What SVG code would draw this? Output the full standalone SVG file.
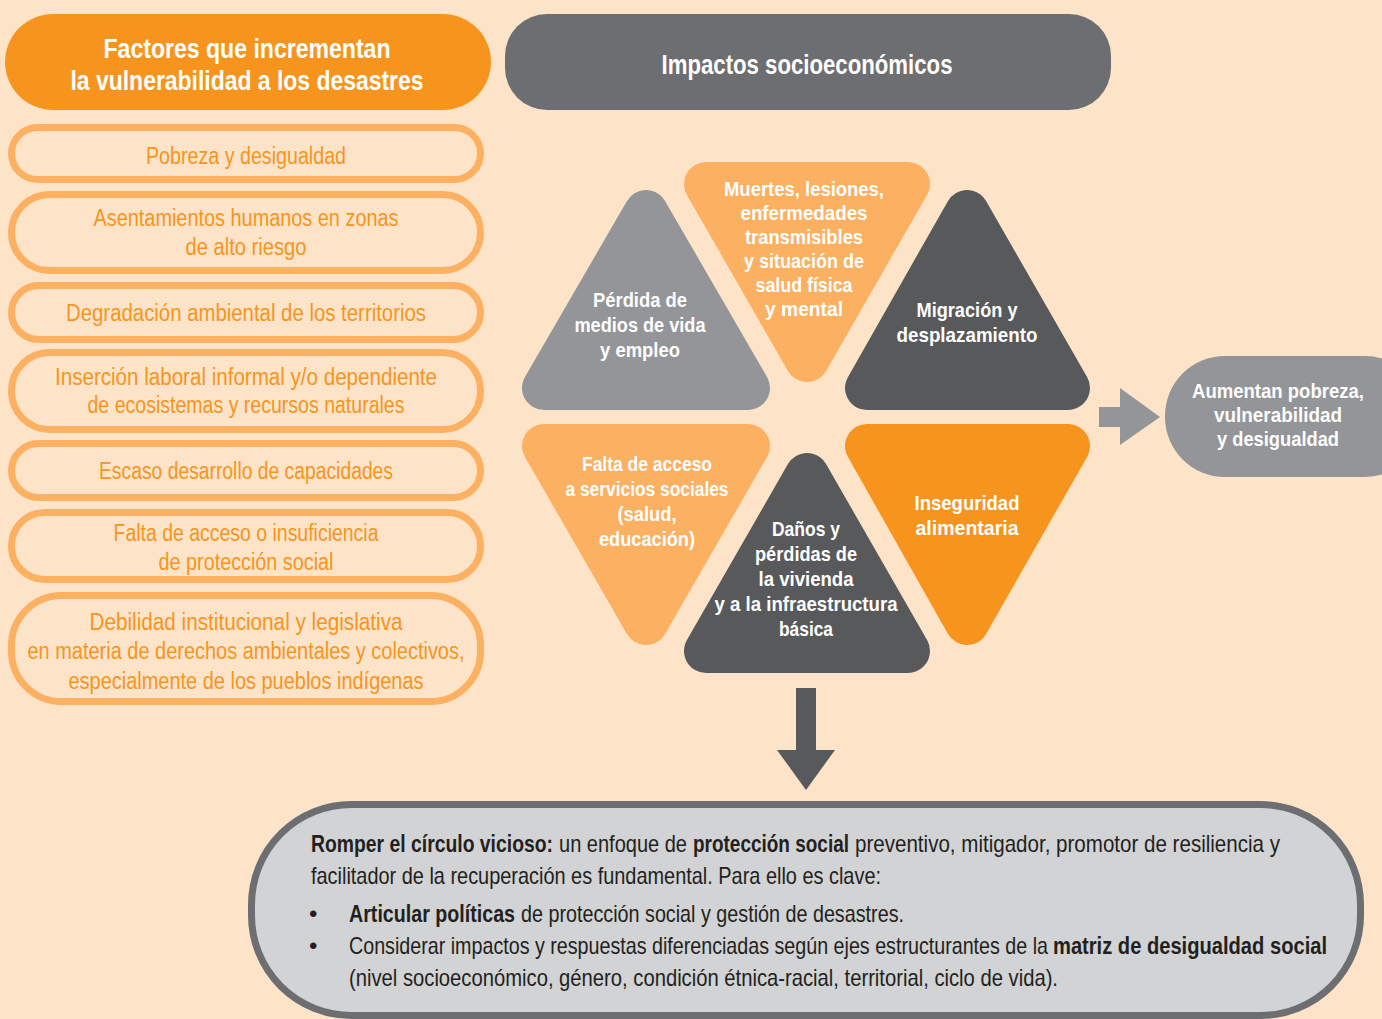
<svg xmlns="http://www.w3.org/2000/svg" width="1382" height="1019" viewBox="0 0 1382 1019">
<style>
text{font-family:"Liberation Sans Narrow","Liberation Sans",Arial,sans-serif;text-anchor:middle}
.hd{fill:#fff;font-weight:bold;font-size:28px}
.it{fill:#F7941D;font-size:23px}
.box{fill:none;stroke:#FBB062;stroke-width:7}
.tw{fill:#fff;font-weight:bold;font-size:21px}
.bt{fill:#231F20;font-size:24px;text-anchor:start}
.b{font-weight:bold}
</style>
<rect width="1382" height="1019" fill="#FDE4C9"/>
<g id="hdr-factores">
<rect x="5" y="14" width="486" height="96" rx="48" fill="#F7941D"/>
<text class="hd" x="247" y="58" textLength="287" lengthAdjust="spacingAndGlyphs">Factores que incrementan</text>
<text class="hd" x="247" y="90" textLength="353" lengthAdjust="spacingAndGlyphs">la vulnerabilidad a los desastres</text>
</g>
<g id="hdr-impactos">
<rect x="505" y="14" width="606" height="96" rx="42" fill="#6D6E71"/>
<text class="hd" x="807" y="74" textLength="291" lengthAdjust="spacingAndGlyphs">Impactos socioeconómicos</text>
</g>
<g id="f1"><rect class="box" x="11.5" y="127.5" width="469" height="52" rx="26"/>
<text class="it" x="246" y="164" textLength="200" lengthAdjust="spacingAndGlyphs">Pobreza y desigualdad</text></g>
<g id="f2"><rect class="box" x="11.5" y="194.5" width="469" height="76" rx="38"/>
<text class="it" x="246" y="226" textLength="305" lengthAdjust="spacingAndGlyphs">Asentamientos humanos en zonas</text>
<text class="it" x="246" y="255" textLength="121" lengthAdjust="spacingAndGlyphs">de alto riesgo</text></g>
<g id="f3"><rect class="box" x="11.5" y="285.5" width="469" height="54" rx="27"/>
<text class="it" x="246" y="321" textLength="360" lengthAdjust="spacingAndGlyphs">Degradación ambiental de los territorios</text></g>
<g id="f4"><rect class="box" x="11.5" y="352.5" width="469" height="77" rx="38"/>
<text class="it" x="246" y="385" textLength="382" lengthAdjust="spacingAndGlyphs">Inserción laboral informal y/o dependiente</text>
<text class="it" x="246" y="413" textLength="317" lengthAdjust="spacingAndGlyphs">de ecosistemas y recursos naturales</text></g>
<g id="f5"><rect class="box" x="11.5" y="443.5" width="469" height="54" rx="27"/>
<text class="it" x="246" y="479" textLength="294" lengthAdjust="spacingAndGlyphs">Escaso desarrollo de capacidades</text></g>
<g id="f6"><rect class="box" x="11.5" y="512.5" width="469" height="67" rx="33"/>
<text class="it" x="246" y="541" textLength="265" lengthAdjust="spacingAndGlyphs">Falta de acceso o insuficiencia</text>
<text class="it" x="246" y="570" textLength="175" lengthAdjust="spacingAndGlyphs">de protección social</text></g>
<g id="f7"><rect class="box" x="11.5" y="595.5" width="469" height="106" rx="50"/>
<text class="it" x="246" y="630" textLength="313" lengthAdjust="spacingAndGlyphs">Debilidad institucional y legislativa</text>
<text class="it" x="246" y="659" textLength="437" lengthAdjust="spacingAndGlyphs">en materia de derechos ambientales y colectivos,</text>
<text class="it" x="246" y="689" textLength="355" lengthAdjust="spacingAndGlyphs">especialmente de los pueblos indígenas</text></g>

<g id="t-perdida">
<polygon points="646,212 544,388 748,388" fill="#939598" stroke="#939598" stroke-width="44" stroke-linejoin="round"/>
<text class="tw" x="640" y="307" textLength="94" lengthAdjust="spacingAndGlyphs">Pérdida de</text>
<text class="tw" x="640" y="332" textLength="131" lengthAdjust="spacingAndGlyphs">medios de vida</text>
<text class="tw" x="640" y="357" textLength="80" lengthAdjust="spacingAndGlyphs">y empleo</text>
</g>
<g id="t-muertes">
<polygon points="706,184 908,184 807,360" fill="#FBB062" stroke="#FBB062" stroke-width="44" stroke-linejoin="round"/>
<text class="tw" x="804" y="196" textLength="160" lengthAdjust="spacingAndGlyphs">Muertes, lesiones,</text>
<text class="tw" x="804" y="220" textLength="127" lengthAdjust="spacingAndGlyphs">enfermedades</text>
<text class="tw" x="804" y="244" textLength="118" lengthAdjust="spacingAndGlyphs">transmisibles</text>
<text class="tw" x="804" y="268" textLength="120" lengthAdjust="spacingAndGlyphs">y situación de</text>
<text class="tw" x="804" y="292" textLength="97" lengthAdjust="spacingAndGlyphs">salud física</text>
<text class="tw" x="804" y="316" textLength="78" lengthAdjust="spacingAndGlyphs">y mental</text>
</g>
<g id="t-migracion">
<polygon points="967,212 867,388 1068,388" fill="#58595B" stroke="#58595B" stroke-width="44" stroke-linejoin="round"/>
<text class="tw" x="967" y="317" textLength="101" lengthAdjust="spacingAndGlyphs">Migración y</text>
<text class="tw" x="967" y="342" textLength="141" lengthAdjust="spacingAndGlyphs">desplazamiento</text>
</g>
<g id="t-falta">
<polygon points="544,446 748,446 646,623" fill="#FBB062" stroke="#FBB062" stroke-width="44" stroke-linejoin="round"/>
<text class="tw" x="647" y="471" textLength="130" lengthAdjust="spacingAndGlyphs">Falta de acceso</text>
<text class="tw" x="647" y="496" textLength="163" lengthAdjust="spacingAndGlyphs">a servicios sociales</text>
<text class="tw" x="647" y="521" textLength="59" lengthAdjust="spacingAndGlyphs">(salud,</text>
<text class="tw" x="647" y="546" textLength="96" lengthAdjust="spacingAndGlyphs">educación)</text>
</g>
<g id="t-danos">
<polygon points="807,475 706,651 908,651" fill="#58595B" stroke="#58595B" stroke-width="44" stroke-linejoin="round"/>
<text class="tw" x="806" y="536" textLength="68" lengthAdjust="spacingAndGlyphs">Daños y</text>
<text class="tw" x="806" y="561" textLength="102" lengthAdjust="spacingAndGlyphs">pérdidas de</text>
<text class="tw" x="806" y="586" textLength="95" lengthAdjust="spacingAndGlyphs">la vivienda</text>
<text class="tw" x="806" y="611" textLength="183" lengthAdjust="spacingAndGlyphs">y a la infraestructura</text>
<text class="tw" x="806" y="636" textLength="54" lengthAdjust="spacingAndGlyphs">básica</text>
</g>
<g id="t-inseguridad">
<polygon points="867,446 1068,446 967,623" fill="#F7941D" stroke="#F7941D" stroke-width="44" stroke-linejoin="round"/>
<text class="tw" x="967" y="510" textLength="105" lengthAdjust="spacingAndGlyphs">Inseguridad</text>
<text class="tw" x="967" y="535" textLength="103" lengthAdjust="spacingAndGlyphs">alimentaria</text>
</g>

<g id="connectors">
<polygon points="1099,407 1120,407 1120,388 1160,417 1120,445 1120,427 1099,427" fill="#939598"/>
<polygon points="796,688 816,688 816,750 835,750 806,790 777,750 796,750" fill="#58595B"/>
</g>

<g id="aumentan">
<rect x="1165" y="356" width="260" height="121" rx="60" fill="#939598"/>
<text class="tw" x="1278" y="398" textLength="172" lengthAdjust="spacingAndGlyphs">Aumentan pobreza,</text>
<text class="tw" x="1278" y="422" textLength="128" lengthAdjust="spacingAndGlyphs">vulnerabilidad</text>
<text class="tw" x="1278" y="446" textLength="122" lengthAdjust="spacingAndGlyphs">y desigualdad</text>
</g>

<g id="romper">
<rect x="251.5" y="804.5" width="1109" height="211" rx="100" fill="#D1D3D4" stroke="#6D6E71" stroke-width="7"/>
<text class="bt b" x="311" y="852" textLength="242" lengthAdjust="spacingAndGlyphs">Romper el círculo vicioso:</text>
<text class="bt" x="559" y="852" textLength="128" lengthAdjust="spacingAndGlyphs">un enfoque de</text>
<text class="bt b" x="693" y="852" textLength="156" lengthAdjust="spacingAndGlyphs">protección social</text>
<text class="bt" x="855" y="852" textLength="425" lengthAdjust="spacingAndGlyphs">preventivo, mitigador, promotor de resiliencia y</text>
<text class="bt" x="311" y="884" textLength="570" lengthAdjust="spacingAndGlyphs">facilitador de la recuperación es fundamental. Para ello es clave:</text>
<text class="bt" x="309" y="922">•</text>
<text class="bt b" x="349" y="922" textLength="166" lengthAdjust="spacingAndGlyphs">Articular políticas</text>
<text class="bt" x="521" y="922" textLength="383" lengthAdjust="spacingAndGlyphs">de protección social y gestión de desastres.</text>
<text class="bt" x="309" y="954">•</text>
<text class="bt" x="349" y="954" textLength="699" lengthAdjust="spacingAndGlyphs">Considerar impactos y respuestas diferenciadas según ejes estructurantes de la</text>
<text class="bt b" x="1053" y="954" textLength="274" lengthAdjust="spacingAndGlyphs">matriz de desigualdad social</text>
<text class="bt" x="349" y="986" textLength="709" lengthAdjust="spacingAndGlyphs">(nivel socioeconómico, género, condición étnica-racial, territorial, ciclo de vida).</text>
</g>
</svg>
